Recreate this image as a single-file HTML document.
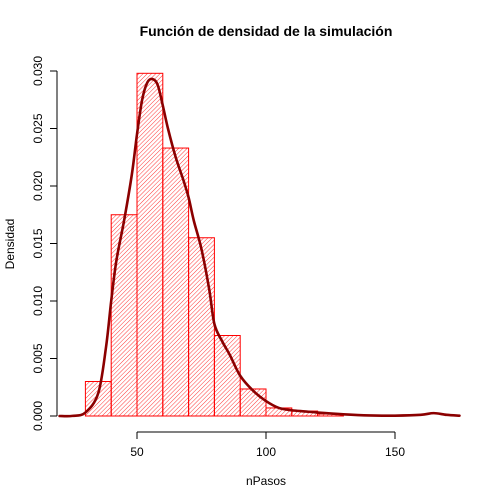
<!DOCTYPE html>
<html><head><meta charset="utf-8"><style>body{margin:0;background:#fff}svg{display:block;font-family:"Liberation Sans",sans-serif}</style></head>
<body>
<svg id="c" width="504" height="504">
<defs><pattern id="h" patternUnits="userSpaceOnUse" width="3" height="3" patternTransform="rotate(45)"><line x1="0" y1="0" x2="0" y2="3" stroke="#f22" stroke-width="0.9"/></pattern></defs>
<text x="266" y="36" text-anchor="middle" font-weight="bold" font-size="14">Función de densidad de la simulación</text>
<text x="266" y="485" text-anchor="middle" font-size="12">nPasos</text>
<text transform="translate(14,244) rotate(-90)" text-anchor="middle" font-size="12">Densidad</text>
<g id="g"></g>
</svg>
<script>
const binStarts=[30,40,50,60,70,80,90,100,110,120];
const binDens=[0.003,0.0175,0.0298,0.0233,0.0155,0.007,0.00235,0.0007,0.00043,0.00017];
const xTicks=[50,100,150];
const yTicks=[0,0.005,0.010,0.015,0.020,0.025,0.030];
const yLabels=["0.000","0.005","0.010","0.015","0.020","0.025","0.030"];
const curveX=[20,25,30,35,38,40,42,45,48,50,52,54,56,58,60,62,65,68,70,72,75,78,80,83,86,90,95,100,105,110,115,120,130,140,150,160,165,170,175];
const curveY=[0,0.00001,0.0003,0.002,0.006,0.01,0.0135,0.017,0.021,0.0245,0.0275,0.029,0.0293,0.0288,0.027,0.025,0.0225,0.0205,0.019,0.017,0.0145,0.011,0.008,0.0065,0.0053,0.0035,0.0022,0.0013,0.0007,0.0005,0.0004,0.0003,0.00015,0.00005,0.00003,0.0001,0.00025,0.0001,0.00003];
const sx=v=>8+v*2.58, sy=v=>416-v*11500;
const g=document.getElementById('g'),NS='http://www.w3.org/2000/svg';
function mk(t,a){const e=document.createElementNS(NS,t);for(const k in a)e.setAttribute(k,a[k]);g.appendChild(e);return e;}
binStarts.forEach((b,i)=>{
 const r=mk('rect',{x:sx(b),y:sy(binDens[i]),width:sx(b+10)-sx(b),height:sy(0)-sy(binDens[i]),fill:'url(#h)',stroke:'#f00','stroke-width':1});
 
 
});
const P=curveX.map((x,i)=>[sx(x),sy(curveY[i])]);
let d='M'+P[0][0]+','+P[0][1];
for(let i=0;i<P.length-1;i++){const p0=P[Math.max(0,i-1)],p1=P[i],p2=P[i+1],p3=P[Math.min(P.length-1,i+2)];
 d+=` C${p1[0]+(p2[0]-p0[0])/6},${p1[1]+(p2[1]-p0[1])/6} ${p2[0]-(p3[0]-p1[0])/6},${p2[1]-(p3[1]-p1[1])/6} ${p2[0]},${p2[1]}`;}
const p=mk('path',{d:d,fill:'none',stroke:'#8b0000','stroke-width':2.6,'stroke-linejoin':'round','stroke-linecap':'round'});


const xa=mk('line',{x1:sx(xTicks[0]),x2:sx(xTicks[2]),y1:432,y2:432,stroke:'#000'});


xTicks.forEach(t=>{mk('line',{x1:sx(t),x2:sx(t),y1:432,y2:439,stroke:'#000'});
 const e=mk('text',{x:sx(t),y:456,'text-anchor':'middle','font-size':12});e.textContent=t;
 
 });
const ya=mk('line',{x1:57,x2:57,y1:sy(0),y2:sy(0.03),stroke:'#000'});


yTicks.forEach((t,i)=>{mk('line',{x1:50,x2:57,y1:sy(t),y2:sy(t),stroke:'#000'});
 const e=mk('text',{transform:`translate(42,${sy(t)}) rotate(-90)`,'text-anchor':'middle','font-size':12});e.textContent=yLabels[i];
 
 });
</script>
</body></html>
